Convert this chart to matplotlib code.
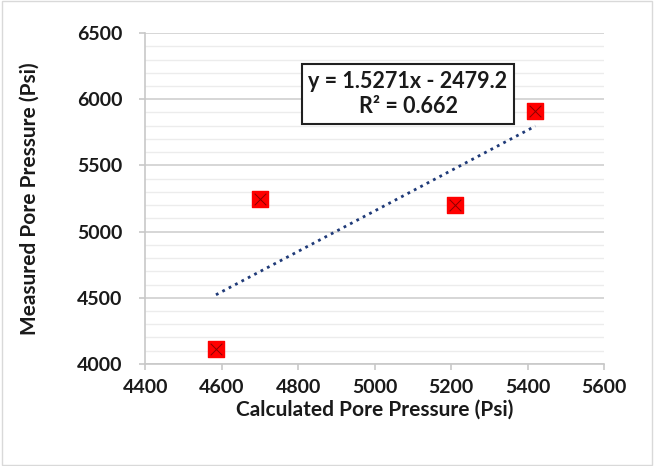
import numpy as np
import matplotlib.pyplot as plt
from matplotlib.ticker import MultipleLocator

calc_pp = [4585, 4700, 5210, 5420]
meas_pp = [4110, 5250, 5200, 5910]
slope = 1.5271
intercept = -2479.2
r2 = 0.662

plt.rcParams['font.family'] = ['Lato', 'DejaVu Sans']
txt_col = '#1a1a1a'

fig = plt.figure(figsize=(6.54, 4.66), dpi=100)
ax = fig.add_axes([0.222, 0.219, 0.702, 0.710])

# gridlines
ax.yaxis.set_major_locator(MultipleLocator(500))
ax.yaxis.set_minor_locator(MultipleLocator(100))
ax.xaxis.set_major_locator(MultipleLocator(200))
ax.grid(which='major', axis='y', color='#d0d0d0', lw=1.2)
ax.grid(which='minor', axis='y', color='#ececec', lw=1.0)
ax.set_axisbelow(True)

# trendline
xs = np.array([min(calc_pp), max(calc_pp)])
ax.plot(xs, slope * xs + intercept, color='#1f3a78', lw=2, ls=(0, (1, 1.6)))

# markers
ax.scatter(calc_pp, meas_pp, marker='s', s=120, color='#ff0000', zorder=3)
ax.scatter(calc_pp, meas_pp, marker='x', s=70, color='#8a0000', lw=0.7, zorder=4)

ax.set_xlim(4400, 5600)
ax.set_ylim(4000, 6500)

for s in ['top', 'right']:
    ax.spines[s].set_visible(False)
for s in ['bottom', 'left']:
    ax.spines[s].set_color('#c8c8c8')
    ax.spines[s].set_linewidth(1.2)
ax.tick_params(axis='x', which='major', length=4.5, color='#c8c8c8', width=1.2, pad=6)
ax.tick_params(axis='y', which='major', length=4.5, color='#c8c8c8', width=1.2, pad=12)
ax.tick_params(axis='y', which='minor', length=0)
for lab in ax.get_xticklabels() + ax.get_yticklabels():
    lab.set_fontsize(14)
    lab.set_fontweight('bold')
    lab.set_color(txt_col)

ax.set_xlabel('Calculated Pore Pressure (Psi)', fontsize=15, fontweight='bold', color=txt_col, labelpad=3)
ax.set_ylabel('Measured Pore Pressure (Psi)', fontsize=15, fontweight='bold', color=txt_col, labelpad=27)

ax.text(5087, 6040, 'y = 1.5271x - 2479.2\nR² = %.3f' % r2, ha='center', va='center',
        fontsize=15.5, fontweight='bold', color=txt_col, linespacing=1.25,
        bbox=dict(boxstyle='square,pad=0.3', fc='white', ec='#202020', lw=1.5))

fig.patches.append(plt.Rectangle((0.003, 0.003), 0.994, 0.994, transform=fig.transFigure,
                                 fill=False, ec='#d9d9d9', lw=1))

fig.savefig('out.png', dpi=100)
